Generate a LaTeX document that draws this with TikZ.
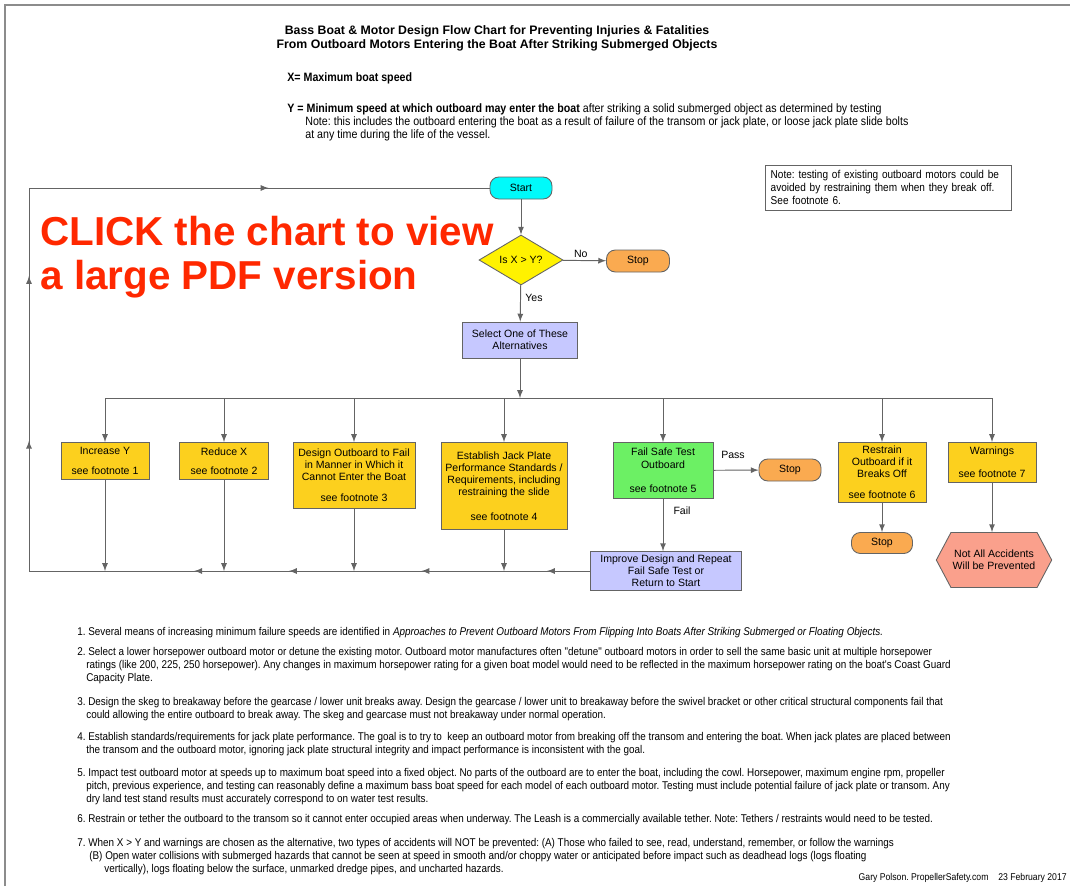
\documentclass[tikz,border=0pt]{standalone}
\usepackage{fontspec}
\setmainfont{Liberation Sans}
\newfontfamily\narrowfont{Liberation Sans}[FakeStretch=0.88]
\usetikzlibrary{shapes.geometric,shapes.symbols,decorations.markings}
\frenchspacing

\definecolor{startcyan}{RGB}{0,250,250}
\definecolor{stoporange}{RGB}{250,170,80}
\definecolor{lavender}{RGB}{198,200,255}
\definecolor{altyellow}{RGB}{252,208,30}
\definecolor{testgreen}{RGB}{108,240,100}
\definecolor{hexsalmon}{RGB}{250,160,140}
\definecolor{clickred}{RGB}{255,40,0}
\definecolor{linegray}{RGB}{100,100,100}
\definecolor{pagegray}{RGB}{140,140,140}

\tikzset{
  flowtext/.style={font=\fontsize{6}{6.9}\selectfont, align=center, inner sep=1pt},
  boxbase/.style={flowtext, draw=linegray, line width=0.5pt},
  terminal/.style={boxbase, rounded corners=5pt, minimum height=0.44cm},
  decision/.style={boxbase, diamond, fill=yellow, aspect=1.7, minimum width=1.68cm, minimum height=1cm, inner sep=0pt},
  choice/.style={boxbase, fill=altyellow, anchor=north},
  process/.style={boxbase, fill=lavender},
  hexnode/.style={boxbase, signal, signal to=east and west, signal pointer angle=124, fill=hexsalmon, minimum width=2.08cm, minimum height=1.1cm},
  link/.style={draw=linegray, line width=0.55pt},
  midarrow/.style={postaction={decorate, decoration={markings, mark=at position #1 with {\arrow{latex}}}}},
  midarrow/.default=0.5,
  lbl/.style={flowtext},
  titletext/.style={font=\fontsize{7}{8}\selectfont\bfseries, align=center},
  headtext/.style={font=\narrowfont\fontsize{6.9}{7.4}\selectfont, align=left, inner sep=0pt},
  fn/.style={font=\narrowfont\fontsize{6.4}{7.4}\selectfont, align=left, anchor=north west, inner sep=0pt},
  clicktext/.style={font=\fontsize{23}{25}\selectfont\bfseries, text=clickred, align=left, anchor=base west, inner sep=0pt},
}
\newcommand{\fnind}{\hspace*{0.18cm}}

\begin{document}
\begin{tikzpicture}[>=latex, x=0.02cm, y=-0.02cm]
  \useasboundingbox (0,0) rectangle (1070,886);
  %%% page edge
  \draw[pagegray, line width=1.2pt] (5,886) -- (5,5) -- (1070,5);

  %%% heading
  \node[titletext] (title) at (497,38) {Bass Boat \& Motor Design Flow Chart for Preventing Injuries \& Fatalities\\From Outboard Motors Entering the Boat After Striking Submerged Objects};
  \node[headtext, anchor=west] (xdef) at (287,78) {\textbf{X= Maximum boat speed}};
  \node[headtext, anchor=north west] (ydef) at (287,103) {\textbf{Y = Minimum speed at which outboard may enter the boat} after striking a solid submerged object as determined by testing\\
    \hspace*{0.36cm}Note: this includes the outboard entering the boat as a result of failure of the transom or jack plate, or loose jack plate slide bolts\\
    \hspace*{0.36cm}at any time during the life of the vessel.};
  \node[headtext, font=\narrowfont\fontsize{6.5}{7.4}\selectfont, draw=linegray, line width=0.5pt, anchor=north west, inner xsep=3pt, inner ysep=3pt, text width=4.7cm] (note) at (765,165) {Note: testing of existing outboard motors could be\\avoided by restraining them when they break off.\\See footnote 6.};

  \node[clicktext] (click) at (40,289) {CLICK the chart to view\\a large PDF version};

  %%% flow chart
  \node[terminal, fill=startcyan, minimum width=1.24cm] (start) at (521,188) {Start};
  \node[decision] (isxy) at (521,260) {Is X > Y?};
  \node[terminal, fill=stoporange, minimum width=1.26cm] (stop1) at (638,261) {Stop};
  \node[process, minimum width=2.3cm, minimum height=0.72cm] (select) at (520,340) {Select One of These\\Alternatives};

  \node[choice, minimum width=1.76cm, minimum height=0.74cm] (incy) at (105,442) {Increase Y\\[4pt]see footnote 1};
  \node[choice, minimum width=1.78cm, minimum height=0.74cm] (redx) at (224,442) {Reduce X\\[4pt]see footnote 2};
  \node[choice, minimum width=2.44cm, minimum height=1.32cm] (design) at (354,442) {Design Outboard to Fail\\in Manner in Which it\\Cannot Enter the Boat\\[5pt]see footnote 3};
  \node[choice, minimum width=2.52cm, minimum height=1.74cm] (jack) at (504,442) {Establish Jack Plate\\Performance Standards /\\Requirements, including\\restraining the slide\\[7pt]see footnote 4};
  \node[choice, fill=testgreen, minimum width=2cm, minimum height=1.12cm] (failsafe) at (663,442) {Fail Safe Test\\Outboard\\[7pt]see footnote 5};
  \node[choice, minimum width=1.76cm, minimum height=1.2cm] (restrain) at (882,442) {Restrain\\Outboard if it\\Breaks Off\\[5pt]see footnote 6};
  \node[choice, minimum width=1.76cm, minimum height=0.8cm] (warn) at (992,442) {Warnings\\[6pt]see footnote 7};

  \node[terminal, fill=stoporange, minimum width=1.24cm] (stop2) at (790,470) {Stop};
  \node[terminal, fill=stoporange, minimum width=1.22cm, minimum height=0.42cm] (stop3) at (882,543) {Stop};
  \node[process, minimum width=3.02cm, minimum height=0.78cm] (improve) at (666,571) {Improve Design and Repeat\\Fail Safe Test or\\Return to Start};
  \node[hexnode] (notall) at (994,560) {Not All Accidents\\Will be Prevented};

  \node[lbl, anchor=west] (nolbl) at (572,254) {No};
  \node[lbl] (yeslbl) at (534,298) {Yes};
  \node[lbl] (passlbl) at (733,455) {Pass};
  \node[lbl] (faillbl) at (682,511) {Fail};

  \coordinate (busmid) at (520,398);
  \coordinate (loopbl) at (29,571);
  \coordinate (looptl) at (29,188);

  \draw[link, ->] (start) -- (isxy);
  \draw[link, ->] (isxy) -- (stop1);
  \draw[link, ->] (isxy) -- (select);
  \draw[link, ->] (select) -- (busmid);
  \draw[link] (incy.north |- busmid) -- (warn.north |- busmid);
  \foreach \alt in {incy,redx,design,jack,failsafe,restrain,warn}
    \draw[link, ->] (\alt.north |- busmid) -- (\alt.north);
  \foreach \alt in {incy,redx,design,jack}
    \draw[link, ->] (\alt.south) -- (\alt.south |- improve.west);
  \draw[link, ->] (failsafe) -- (stop2);
  \draw[link, ->] (failsafe.south) -- (failsafe.south |- improve.north);
  \draw[link, ->] (restrain) -- (stop3);
  \draw[link, ->] (warn.south) -- (warn.south |- notall.north);

  %%% way back to start
  \draw[link, midarrow] (improve.west) -- (jack.south |- improve.west);
  \draw[link, midarrow=0.55] (jack.south |- improve.west) -- (design.south |- improve.west);
  \draw[link, midarrow] (design.south |- improve.west) -- (redx.south |- improve.west);
  \draw[link, midarrow=0.25] (redx.south |- improve.west) -- (incy.south |- improve.west);
  \draw[link] (incy.south |- improve.west) -- (loopbl);
  \draw[link, midarrow=0.34, midarrow=0.77] (loopbl) -- (looptl);
  \draw[link, midarrow=0.52] (looptl) -- (start.west);

  %%% footnotes
  \node[fn] (fn1) at (77,627) {1. Several means of increasing minimum failure speeds are identified in \textit{Approaches to Prevent Outboard Motors From Flipping Into Boats After Striking Submerged or Floating Objects.}};
  \node[fn] (fn2) at (77,647) {2. Select a lower horsepower outboard motor or detune the existing motor. Outboard motor manufactures often "detune" outboard motors in order to sell the same basic unit at multiple horsepower\\
    \fnind ratings (like 200, 225, 250 horsepower). Any changes in maximum horsepower rating for a given boat model would need to be reflected in the maximum horsepower rating on the boat's Coast Guard\\
    \fnind Capacity Plate.};
  \node[fn] (fn3) at (77,697) {3. Design the skeg to breakaway before the gearcase / lower unit breaks away. Design the gearcase / lower unit to breakaway before the swivel bracket or other critical structural components fail that\\
    \fnind could allowing the entire outboard to break away. The skeg and gearcase must not breakaway under normal operation.};
  \node[fn] (fn4) at (77,732) {4. Establish standards/requirements for jack plate performance. The goal is to try to\ \ keep an outboard motor from breaking off the transom and entering the boat. When jack plates are placed between\\
    \fnind the transom and the outboard motor, ignoring jack plate structural integrity and impact performance is inconsistent with the goal.};
  \node[fn] (fn5) at (77,768) {5. Impact test outboard motor at speeds up to maximum boat speed into a fixed object. No parts of the outboard are to enter the boat, including the cowl. Horsepower, maximum engine rpm, propeller\\
    \fnind pitch, previous experience, and testing can reasonably define a maximum bass boat speed for each model of each outboard motor. Testing must include potential failure of jack plate or transom. Any\\
    \fnind dry land test stand results must accurately correspond to on water test results.};
  \node[fn] (fn6) at (77,814) {6. Restrain or tether the outboard to the transom so it cannot enter occupied areas when underway. The Leash is a commercially available tether. Note: Tethers / restraints would need to be tested.};
  \node[fn] (fn7) at (77,838) {7. When X > Y and warnings are chosen as the alternative, two types of accidents will NOT be prevented: (A) Those who failed to see, read, understand, remember, or follow the warnings\\
    \hspace*{0.24cm}(B) Open water collisions with submerged hazards that cannot be seen at speed in smooth and/or choppy water or anticipated before impact such as deadhead logs (logs floating\\
    \hspace*{0.54cm}vertically), logs floating below the surface, unmarked dredge pipes, and uncharted hazards.};
  \node[fn, font=\narrowfont\fontsize{5.6}{6}\selectfont, anchor=east] (credit) at (1067,878) {Gary Polson. PropellerSafety.com\quad 23 February 2017};
\end{tikzpicture}
\end{document}
